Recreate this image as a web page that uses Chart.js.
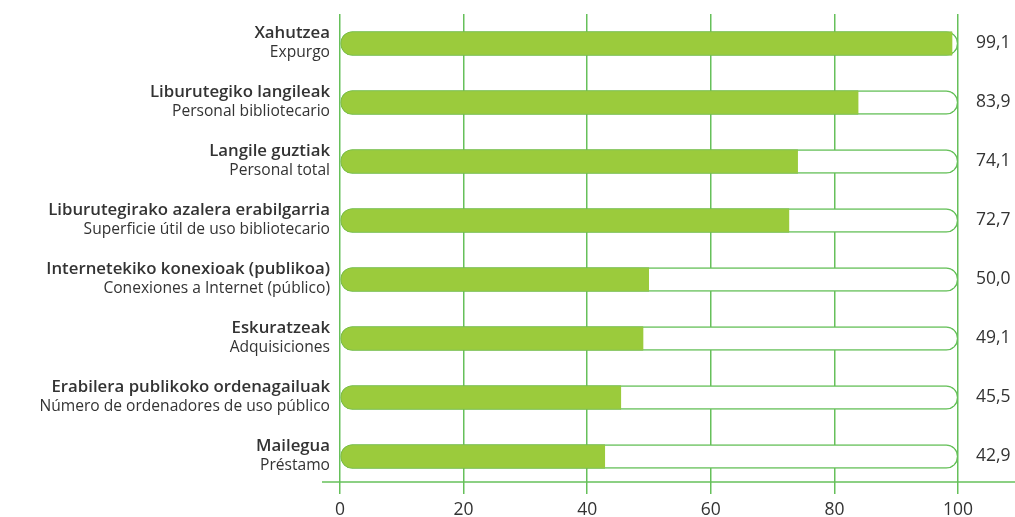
<!DOCTYPE html>
<html>
<head>
<meta charset="utf-8">
<script src="https://cdn.jsdelivr.net/npm/chart.js@4/dist/chart.umd.min.js"></script>
<style>
  html, body { margin: 0; padding: 0; background: #fff; }
  #wrap { width: 1015px; height: 517px; }
</style>
</head>
<body>
<div id="wrap"><canvas id="chart"></canvas></div>
<script>
// Data (two-line labels: Basque / Spanish)
let labelsEu = ['Xahutzea', 'Liburutegiko langileak', 'Langile guztiak', 'Liburutegirako azalera erabilgarria',
    'Internetekiko konexioak (publikoa)', 'Eskuratzeak', 'Erabilera publikoko ordenagailuak', 'Mailegua'];
let labelsEs = ['Expurgo', 'Personal bibliotecario', 'Personal total', 'Superficie útil de uso bibliotecario',
    'Conexiones a Internet (público)', 'Adquisiciones', 'Número de ordenadores de uso público', 'Préstamo'];
let values = [99.1, 83.9, 74.1, 72.7, 50.0, 49.1, 45.5, 42.9];
let fullScale = [100, 100, 100, 100, 100, 100, 100, 100];

let green = '#9bcb3c';
let lineGreen = '#66c05a';
let textColor = '#333333';
let fontFamily = '"Open Sans", "Noto Sans", sans-serif';

// Draws the two-line category labels, the value column and the long axis line.
const labelsPlugin = {
    id: 'labelsPlugin',
    afterDraw(chart) {
        const ctx = chart.ctx;
        const y = chart.scales.y;
        const area = chart.chartArea;
        ctx.save();

        // bottom axis line, running past the plot on both sides
        ctx.strokeStyle = lineGreen;
        ctx.lineWidth = 1.5;
        ctx.beginPath();
        ctx.moveTo(322, area.bottom - 4);
        ctx.lineTo(chart.width, area.bottom - 4);
        ctx.stroke();

        ctx.fillStyle = textColor;
        ctx.textBaseline = 'middle';
        for (let i = 0; i < labelsEu.length; i++) {
            const cy = y.getPixelForValue(i);
            ctx.textAlign = 'right';
            ctx.font = '600 16.8px ' + fontFamily;
            ctx.fillText(labelsEu[i], area.left - 10, cy - 10);
            ctx.font = '400 15.6px ' + fontFamily;
            ctx.fillText(labelsEs[i], area.left - 10, cy + 9);

            ctx.textAlign = 'left';
            ctx.font = '400 17.5px ' + fontFamily;
            ctx.fillText(values[i].toFixed(1).replace('.', ','), area.right + 18, cy);
        }
        ctx.restore();
    }
};

new Chart(document.getElementById('chart'), {
    type: 'bar',
    data: {
        labels: labelsEu,
        datasets: [{
            data: values,
            backgroundColor: green,
            borderColor: '#7dbd45',
            borderWidth: 1,
            borderSkipped: 'end',
            borderRadius: 12,
            barThickness: 24,
            order: 1
        }, {
            data: fullScale,
            backgroundColor: '#ffffff',
            borderColor: lineGreen,
            borderWidth: 1.5,
            borderSkipped: false,
            borderRadius: 12,
            barThickness: 24,
            order: 2
        }]
    },
    options: {
        indexAxis: 'y',
        responsive: true,
        maintainAspectRatio: false,
        animation: false,
        layout: { padding: { top: 14, right: 57, bottom: 0, left: 0 } },
        plugins: {
            legend: { display: false },
            tooltip: { enabled: false }
        },
        datasets: { bar: { grouped: false } },
        scales: {
            x: {
                min: 0,
                max: 100,
                ticks: {
                    stepSize: 20,
                    color: textColor,
                    font: { family: fontFamily, size: 17.5 },
                    padding: 6
                },
                grid: { color: lineGreen, lineWidth: 1.5, tickLength: 8 },
                border: { display: false },
                afterFit(scale) {
                    scale.height = 31;
                }
            },
            y: {
                grid: { display: false },
                border: { display: false },
                ticks: { display: false },
                afterFit(scale) {
                    scale.width = 340;
                }
            }
        }
    },
    plugins: [labelsPlugin]
});
</script>
</body>
</html>
